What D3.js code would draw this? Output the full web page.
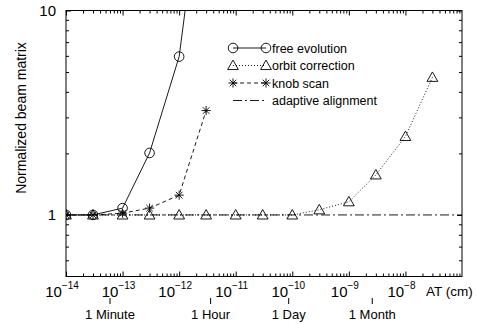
<!DOCTYPE html>
<html><head><meta charset="utf-8">
<script src="https://cdn.jsdelivr.net/npm/d3@7"></script>
<style>body{margin:0;background:#fff}svg{display:block;font-family:"Liberation Sans",Arial,sans-serif}</style>
</head><body><svg id="c" width="478" height="324"></svg>
<script>
// Data
const xFree = [1e-14, 3e-14, 1e-13, 3e-13, 1e-12, 3e-12];
const yFree = [1, 1, 1.08, 2.01, 5.95, 62];
const xOrbit = [1e-14, 3e-14, 1e-13, 3e-13, 1e-12, 3e-12, 1e-11, 3e-11, 1e-10, 3e-10, 1e-9, 3e-9, 1e-8, 3e-8];
const yOrbit = [1, 1, 1, 1, 1, 1, 1, 1, 1, 1.06, 1.16, 1.57, 2.42, 4.71];
const xKnob = [1e-14, 3e-14, 1e-13, 3e-13, 1e-12, 3e-12];
const yKnob = [1, 1, 1.02, 1.08, 1.25, 3.24];
const xAdaptive = [1e-14, 1e-7];
const yAdaptive = [1, 1];
const seriesNames = ["free evolution", "orbit correction", "knob scan", "adaptive alignment"];
const xMajorExp = [-14, -13, -12, -11, -10, -9, -8];
const timeLabels = ["1 Minute", "1 Hour", "1 Day", "1 Month"];
const timeValues = [6e-14, 3.6e-12, 8.64e-11, 2.592e-9];
const yMajor = [1, 10];

const svg = d3.select("#c");
const L = 66, R = 462, T = 10.5, B = 276.5;
const x = d3.scaleLog().domain([1e-14, 1e-7]).range([L, R]);
const y = d3.scaleLog().domain([0.5, 10]).range([B, T]);

// minor ticks
const xMinor = [];
for (let e = -14; e < -7; e++) for (let m = 2; m <= 9; m++) xMinor.push(m * Math.pow(10, e));
const yMinor = [0.6, 0.7, 0.8, 0.9, 2, 3, 4, 5, 6, 7, 8, 9];
const xMajor = xMajorExp.map(e => Math.pow(10, e));

function addAxis(gen, tr, vals, size) {
  const g = svg.append("g").attr("transform", tr)
    .call(gen.tickValues(vals).tickSize(size).tickFormat(""));
  g.select(".domain").remove();
  g.selectAll("line").attr("stroke", "#000").attr("stroke-width", 1);
  return g;
}
addAxis(d3.axisBottom(x), `translate(0,${B})`, xMajor, -5);
addAxis(d3.axisBottom(x), `translate(0,${B})`, xMinor, -3);
addAxis(d3.axisTop(x), `translate(0,${T})`, xMajor, -5);
addAxis(d3.axisTop(x), `translate(0,${T})`, xMinor, -3);
addAxis(d3.axisLeft(y), `translate(${L},0)`, yMajor, -5);
addAxis(d3.axisLeft(y), `translate(${L},0)`, yMinor, -3);
addAxis(d3.axisRight(y), `translate(${R},0)`, yMajor, -5);
addAxis(d3.axisRight(y), `translate(${R},0)`, yMinor, -3);

svg.append("rect").attr("x", L).attr("y", T).attr("width", R - L).attr("height", B - T)
  .attr("fill", "none").attr("stroke", "#000").attr("stroke-width", 1);

// x tick labels with superscripts
xMajorExp.forEach(e => {
  const t = svg.append("text").attr("x", x(Math.pow(10, e)) - 4).attr("y", 297)
    .attr("text-anchor", "middle").attr("font-size", 15);
  t.append("tspan").text("10");
  t.append("tspan").attr("font-size", 10).attr("dy", -8).text("\u2212" + Math.abs(e));
});
svg.append("text").attr("x", 426).attr("y", 296).attr("font-size", 13.5).text("AT (cm)");

// y tick labels
yMajor.forEach(v => {
  svg.append("text").attr("x", L - 10).attr("y", y(v) + 5).attr("text-anchor", "end")
    .attr("font-size", 15).text(v);
});
svg.append("text").attr("transform", `translate(26,118) rotate(-90)`)
  .attr("text-anchor", "middle").attr("font-size", 14).text("Normalized beam matrix");

// time labels
timeValues.forEach((v, i) => {
  svg.append("line").attr("x1", x(v)).attr("x2", x(v)).attr("y1", 298).attr("y2", 304)
    .attr("stroke", "#000");
  svg.append("text").attr("x", x(v)).attr("y", 319).attr("text-anchor", "middle")
    .attr("font-size", 13).text(timeLabels[i]);
});

// clip
svg.append("clipPath").attr("id", "clip").append("rect")
  .attr("x", L).attr("y", T).attr("width", R - L).attr("height", B - T);
const plot = svg.append("g").attr("clip-path", "url(#clip)");

const line = d3.line().x(d => x(d[0])).y(d => y(d[1]));
function zip(a, b) { return a.map((v, i) => [v, b[i]]); }

const styles = [
  { xs: xFree, ys: yFree, dash: null, marker: "circle" },
  { xs: xOrbit, ys: yOrbit, dash: "1,2", marker: "triangle" },
  { xs: xKnob, ys: yKnob, dash: "4,3", marker: "star" },
  { xs: xAdaptive, ys: yAdaptive, dash: "9,3,2,3", marker: null }
];

function drawMarker(g, type, cx, cy) {
  if (type === "circle") {
    g.append("circle").attr("cx", cx).attr("cy", cy).attr("r", 4.8)
      .attr("fill", "none").attr("stroke", "#000").attr("stroke-width", 0.9);
  } else if (type === "triangle") {
    const s = 5.4;
    g.append("path").attr("d", `M${cx},${cy - s}L${cx + s},${cy + s * 0.75}L${cx - s},${cy + s * 0.75}Z`)
      .attr("fill", "none").attr("stroke", "#000").attr("stroke-width", 0.9);
  } else if (type === "star") {
    const s = 4.6, d = s * 0.71;
    g.append("path").attr("d",
      `M${cx - s},${cy}L${cx + s},${cy}M${cx},${cy - s}L${cx},${cy + s}M${cx - d},${cy - d}L${cx + d},${cy + d}M${cx - d},${cy + d}L${cx + d},${cy - d}`)
      .attr("stroke", "#000").attr("stroke-width", 0.9);
  }
}

[3, 1, 2, 0].forEach(i => {
  const s = styles[i];
  const pts = zip(s.xs, s.ys);
  plot.append("path").attr("d", line(pts)).attr("fill", "none").attr("stroke", "#000")
    .attr("stroke-width", 0.9).attr("stroke-dasharray", s.dash);
  if (s.marker) pts.forEach(p => drawMarker(plot, s.marker, x(p[0]), y(p[1])));
});

// legend
const lx0 = 233, lx1 = 266, ltx = 272, ly0 = 48, ldy = 17.5;
seriesNames.forEach((name, i) => {
  const s = styles[i];
  const ly = ly0 + i * ldy;
  svg.append("line").attr("x1", lx0).attr("x2", lx1).attr("y1", ly).attr("y2", ly)
    .attr("stroke", "#000").attr("stroke-width", 0.9).attr("stroke-dasharray", s.dash);
  if (s.marker) {
    drawMarker(svg, s.marker, lx0, ly);
    drawMarker(svg, s.marker, lx1, ly);
  }
  svg.append("text").attr("x", ltx).attr("y", ly + 4.5).attr("font-size", 12.5).text(name);
});
</script></body></html>
